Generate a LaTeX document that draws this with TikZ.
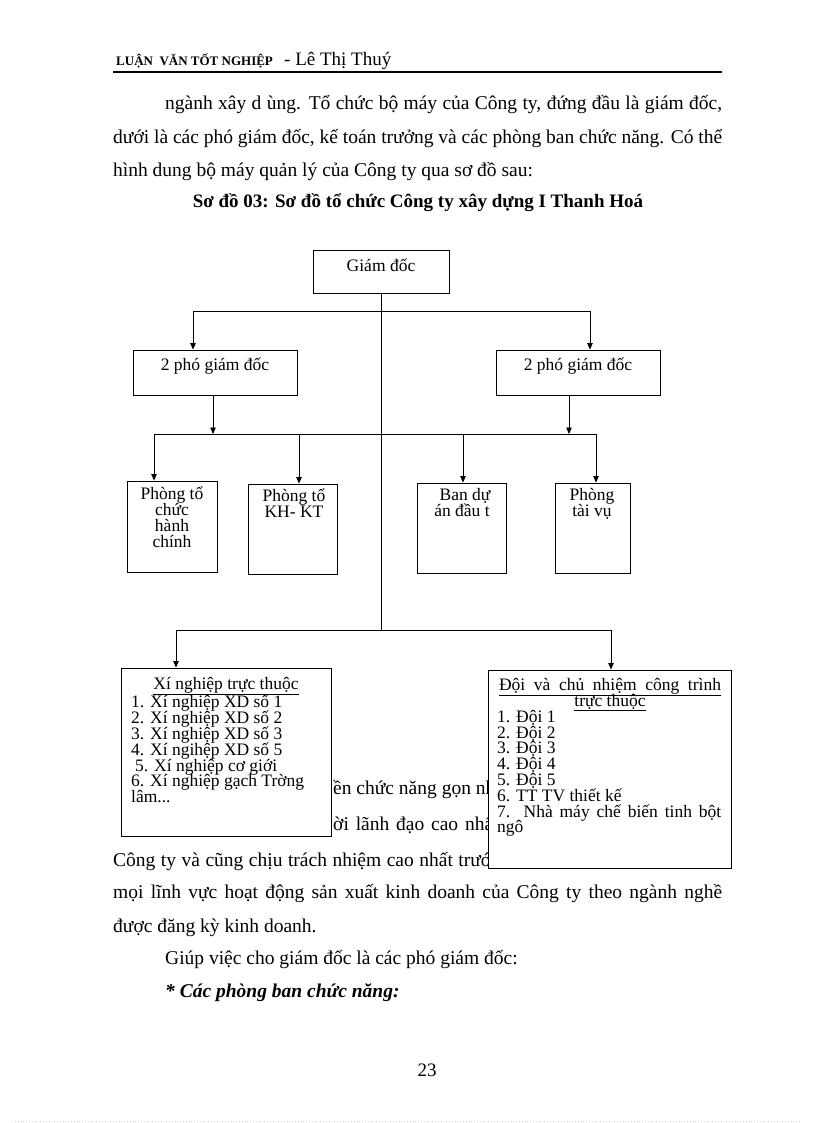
\documentclass[tikz,border=0pt]{standalone}
\usepackage{fontspec}
\setmainfont{Liberation Serif}
\usetikzlibrary{arrows.meta}
\newcommand{\tightlines}{\setlength{\lineskiplimit}{-20pt}}
\begin{document}
\begin{tikzpicture}[x=1pt,y=-1pt,
  box/.style={draw, line width=0.9pt, inner sep=0pt, fill=white},
  lbl/.style={inner sep=0pt, font=\fontsize{17.5}{15.8}\selectfont\tightlines, align=center},
  lst/.style={inner sep=0pt, font=\fontsize{17.5}{15.8}\selectfont\tightlines, align=left},
  body/.style={inner sep=0pt, anchor=base west, font=\fontsize{19.5}{19.5}\selectfont},
  conn/.style={line width=0.9pt},
  arr/.style={line width=0.9pt, -{Triangle[length=6.5pt,width=5.5pt]}},
]
\useasboundingbox (0,0) rectangle (816,1123);
% header
\node[inner sep=0pt, anchor=base west, font=\fontsize{13}{13}\selectfont\bfseries] (hd1) at (116,66) {LUẬN\ \ VĂN TỐT NGHIỆP};
\node[inner sep=0pt, anchor=base west, font=\fontsize{19}{19}\selectfont] (hd2) at (284,66) {- Lê Thị Thuý};
\draw[line width=2pt] (113,72) -- (722,72);
% body text above
\node[body] (l1) at (165,110) {\makebox[557pt][s]{ngành xây d ùng. Tổ chức bộ máy của Công ty, đứng đầu là giám đốc,}};
\node[body] (l2) at (113,144) {\makebox[609pt][s]{dưới là các phó giám đốc, kế toán trưởng và các phòng ban chức năng. Có thể}};
\node[body] (l3) at (113,177) {hình dung bộ máy quản lý của Công ty qua sơ đồ sau:};
\node[inner sep=0pt, anchor=base, font=\fontsize{19}{19}\selectfont\bfseries] (ttl) at (418,208) {Sơ đồ 03: Sơ đồ tổ chức Công ty xây dựng I Thanh Hoá};
% body text below
\node[body] (f1) at (333,794) {ền chức năng gọn nh};
\node[body] (f2) at (333,830) {\makebox[160pt][s]{ời lãnh đạo cao nhấ}};
\node[body] (f3) at (113,866) {\makebox[378pt][s]{Công ty và cũng chịu trách nhiệm cao nhất trướ}};
\node[body] (f4) at (113,898) {\makebox[609pt][s]{mọi lĩnh vực hoạt động sản xuất kinh doanh của Công ty theo ngành nghề}};
\node[body] (f5) at (113,932) {được đăng kỳ kinh doanh.};
\node[body] (f6) at (165,964) {Giúp việc cho giám đốc là các phó giám đốc:};
\node[body, font=\fontsize{19.5}{19.5}\selectfont\bfseries\itshape] (f7) at (165,997) {* Các phòng ban chức năng:};
\node[inner sep=0pt, anchor=base, font=\fontsize{19}{19}\selectfont] (pn) at (427,1076) {23};
\draw[dotted, line width=0.8pt, color={rgb,255:red,225;green,200;blue,210}] (15,1121) -- (800,1121);
% boxes
\node[box, minimum width=136pt, minimum height=43pt] (gd) at (381,271.5) {};
\node[box, minimum width=164pt, minimum height=45pt] (pg1) at (215,372.5) {};
\node[box, minimum width=164pt, minimum height=45pt] (pg2) at (578,372.5) {};
\node[box, minimum width=90pt, minimum height=91pt] (p1) at (172,526.5) {};
\node[box, minimum width=89pt, minimum height=90pt] (p2) at (292.5,529) {};
\node[box, minimum width=89pt, minimum height=90pt] (p3) at (461.5,528) {};
\node[box, minimum width=75pt, minimum height=90pt] (p4) at (592.5,528) {};
\node[box, minimum width=210pt, minimum height=168pt] (xn) at (226,752) {};
\node[box, minimum width=243pt, minimum height=198pt] (doi) at (609.5,769) {};
% box texts
\node[lbl, anchor=base] (gdt) at (381,271) {Giám đốc};
\node[lbl, anchor=base] (pg1t) at (215,370) {2 phó giám đốc};
\node[lbl, anchor=base] (pg2t) at (578,370) {2 phó giám đốc};
\node[lbl, anchor=north] (p1t) at (172,487) {Phòng tổ\\chức\\hành\\chính};
\node[lbl, anchor=north] (p2t) at (294,489) {Phòng tổ\\KH- KT};
\node[lbl, anchor=north] (p3t) at (462,488) {\hspace*{6pt}Ban dự\\án đầu t};
\node[lbl, anchor=north] (p4t) at (592,488) {Phòng\\tài vụ};
\node[lbl, anchor=base] (xnh) at (226,689) {\underline{Xí nghiệp trực thuộc}};
\node[lst, anchor=north west] (xnl) at (131,695) {1. Xí nghiệp XD số 1\\2. Xí nghiệp XD số 2\\3. Xí nghiệp XD số 3\\4. Xí ngihệp XD số 5\\\hspace*{4pt}5. Xí nghiệp cơ giới\\6. Xí nghiệp gạch Trờng\\lâm...};
\node[lbl, anchor=base] (doih1) at (610,690) {\underline{\makebox[222pt][s]{Đội và chủ nhiệm công trình}}};
\node[lbl, anchor=base] (doih2) at (610,706) {\underline{trực thuộc}};
\node[lst, anchor=north west] (doil) at (497,710) {1. Đội 1\\2. Đội 2\\3. Đội 3\\4. Đội 4\\5. Đội 5\\6. TT TV thiết kế\\\makebox[224pt][s]{7. Nhà máy chế biến tinh bột}\\ngô};
% connectors
\coordinate (tl) at (193,311);
\coordinate (tr) at (590,311);
\coordinate (ml) at (154,434);
\coordinate (mr) at (596,434);
\coordinate (m2) at (299,434);
\coordinate (m3) at (463,434);
\coordinate (a1) at (213,434);
\coordinate (a2) at (569,434);
\coordinate (ll) at (176,630);
\coordinate (lr) at (611,630);
\coordinate (cj) at (381,630);
\draw[conn] (gd.south) -- (cj);
\draw[conn] (tl) -- (tr);
\draw[arr] (tl) -- (tl |- pg1.north);
\draw[arr] (tr) -- (tr |- pg2.north);
\draw[arr] (a1 |- pg1.south) -- (a1);
\draw[arr] (a2 |- pg2.south) -- (a2);
\draw[conn] (ml) -- (mr);
\draw[arr] (ml) -- (ml |- p1.north);
\draw[arr] (m2) -- (m2 |- p2.north);
\draw[arr] (m3) -- (m3 |- p3.north);
\draw[arr] (mr) -- (mr |- p4.north);
\draw[conn] (ll) -- (lr);
\draw[arr] (ll) -- (ll |- xn.north);
\draw[arr] (lr) -- (lr |- doi.north);
\end{tikzpicture}
\end{document}
